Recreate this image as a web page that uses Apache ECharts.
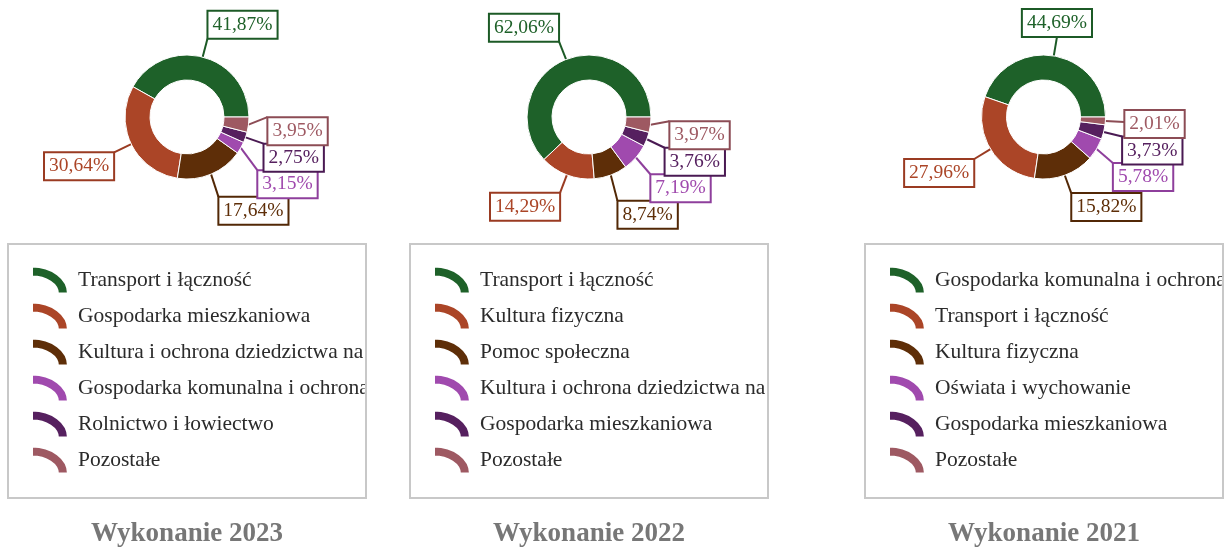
<!DOCTYPE html>
<html>
<head>
<meta charset="utf-8">
<script src="https://cdn.jsdelivr.net/npm/echarts@6/dist/echarts.min.js"></script>
<style>
  html, body { margin: 0; padding: 0; background: #ffffff; }
  #chart { width: 1227px; height: 550px; }
</style>
</head>
<body>
<div id="chart"></div>
<script>
// ---- data -------------------------------------------------------------
const titles = ['Wykonanie 2023', 'Wykonanie 2022', 'Wykonanie 2021'];

const categories2023 = ['Transport i łączność', 'Gospodarka mieszkaniowa', 'Kultura i ochrona dziedzictwa narodowego',
  'Gospodarka komunalna i ochrona środowiska', 'Rolnictwo i łowiectwo', 'Pozostałe'];
const values2023 = [41.87, 30.64, 17.64, 3.15, 2.75, 3.95];

const categories2022 = ['Transport i łączność', 'Kultura fizyczna', 'Pomoc społeczna',
  'Kultura i ochrona dziedzictwa narodowego', 'Gospodarka mieszkaniowa', 'Pozostałe'];
const values2022 = [62.06, 14.29, 8.74, 7.19, 3.76, 3.97];

const categories2021 = ['Gospodarka komunalna i ochrona środowiska', 'Transport i łączność', 'Kultura fizyczna',
  'Oświata i wychowanie', 'Gospodarka mieszkaniowa', 'Pozostałe'];
const values2021 = [44.69, 27.96, 15.82, 5.78, 3.73, 2.01];

// ---- styling ----------------------------------------------------------
const sliceColors  = ['#1e6129', '#ab4527', '#5e2e08', '#a04aae', '#56205f', '#9e5962'];
const borderColors = ['#1c5a26', '#9a3b22', '#522806', '#8e3f9c', '#4a1a53', '#8c4c55'];

const SERIF = '"Liberation Serif", "Times New Roman", serif';
const CENTER_Y = 117;
const CENTERS_X = [187, 589, 1043.5];
const R_IN = 37, R_OUT = 62, LINE_LEN = 19;
const LABEL_FONT = 19.5, LABEL_LH = 22, LABEL_PAD = [2, 4], LABEL_BORDER = 2;
const BOX_LEFTS = [7, 409, 864];          // outer left edge of each legend frame
const BOX_W = 360, BOX_TOP = 243, BOX_H = 256;

const fmt = v => v.toFixed(2).replace('.', ',') + '%';

const measureCtx = document.createElement('canvas').getContext('2d');
function textWidth(str) {
  measureCtx.font = LABEL_FONT + 'px ' + SERIF;
  return measureCtx.measureText(str).width;
}

// Place each value label beside the ring: the box touches the end of a
// short radial leader, then labels that collide on one side are spread apart.
function placeLabels(values, cx, cy) {
  const total = values.reduce((a, b) => a + b, 0);
  let acc = 0;
  const items = values.map((v, i) => {
    const mid = (acc + v / 2) / total * 2 * Math.PI;
    acc += v;
    const dx = Math.cos(mid), dy = -Math.sin(mid);
    const ax = cx + (R_OUT + LINE_LEN) * dx, ay = cy + (R_OUT + LINE_LEN) * dy;
    const w = textWidth(fmt(v)) + 2 * LABEL_PAD[1] + LABEL_BORDER;
    const h = LABEL_LH + 2 * LABEL_PAD[0] + LABEL_BORDER;
    const hCenter = Math.abs(dx) < 0.2, vCenter = Math.abs(dy) < 0.1;
    const left = hCenter ? ax - w / 2 : (dx > 0 ? ax : ax - w);
    const top = vCenter ? ay - h / 2 : (dy > 0 ? ay : ay - h);
    return { i, dx, dy, ax, ay, w, h, hCenter, vCenter, left, top, ideal: top,
             sx: cx + R_OUT * dx, sy: cy + R_OUT * dy, side: dx >= 0 ? 1 : -1 };
  });

  const step = items[0].h - 1.5;
  [1, -1].forEach(side => {
    const list = items.filter(it => it.side === side).sort((a, b) => a.ideal - b.ideal);
    const groups = [];
    const settle = g => {
      let s = 0;
      g.members.forEach((m, k) => { s += m.ideal - k * step; });
      g.top = s / g.members.length;
    };
    list.forEach(it => {
      const g = { members: [it] };
      settle(g);
      groups.push(g);
      while (groups.length > 1) {
        const a = groups[groups.length - 2], b = groups[groups.length - 1];
        if (a.top + a.members.length * step <= b.top) break;
        a.members = a.members.concat(b.members);
        groups.pop();
        settle(a);
      }
    });
    groups.forEach(g => g.members.forEach((m, k) => { m.top = g.top + k * step + (g.members.length > 1 ? 2 : 0); }));
  });

  items.forEach(it => {
    it.ex = it.hCenter ? Math.min(Math.max(it.ax, it.left + 3), it.left + it.w - 3)
                       : (it.side > 0 ? it.left : it.left + it.w);
    it.ey = it.vCenter ? Math.min(Math.max(it.ay, it.top + 3), it.top + it.h - 3)
                       : (it.dy > 0 ? it.top : it.top + it.h);
  });
  return items;
}

const charts = [
  { names: categories2023, values: values2023 },
  { names: categories2022, values: values2022 },
  { names: categories2021, values: values2021 }
];

// Quarter-ring marker used in the legends (drawn in a 4:3 box)
const ARC_ICON = 'path://M0 0 A100 75 0 0 1 100 75 L72 75 A72 47 0 0 0 0 28 Z';

const series = [], legends = [], titleList = [], frames = [];
charts.forEach((c, s) => {
  const cx = CENTERS_X[s];
  const placed = placeLabels(c.values, cx, CENTER_Y);
  series.push({
    type: 'pie',
    name: titles[s],
    center: [cx, CENTER_Y],
    radius: [R_IN, R_OUT],
    startAngle: 0,
    clockwise: false,
    avoidLabelOverlap: false,
    silent: true,
    itemStyle: { borderColor: '#ffffff', borderWidth: 1 },
    label: {
      show: true,
      position: 'outside',
      formatter: p => fmt(p.value),
      fontFamily: SERIF,
      fontSize: LABEL_FONT,
      lineHeight: LABEL_LH,
      padding: LABEL_PAD,
      backgroundColor: '#ffffff',
      borderWidth: LABEL_BORDER
    },
    labelLine: { show: true, length: LINE_LEN, length2: 0, lineStyle: { width: 2 } },
    labelLayout: p => {
      const pl = placed[p.dataIndex];
      return {
        x: pl.left + LABEL_BORDER / 2,
        y: pl.top + LABEL_BORDER / 2,
        align: 'left',
        verticalAlign: 'top',
        labelLinePoints: [[pl.sx, pl.sy], [pl.ex, pl.ey], [pl.ex, pl.ey]]
      };
    },
    data: c.names.map((n, i) => ({
      name: n,
      value: c.values[i],
      itemStyle: { color: sliceColors[i] },
      label: { color: sliceColors[i], borderColor: borderColors[i] },
      labelLine: { lineStyle: { color: borderColors[i] } }
    }))
  });

  legends.push({
    orient: 'vertical',
    left: BOX_LEFTS[s] + 24,
    top: 265.5,
    padding: 0,
    itemWidth: 36,
    itemHeight: 27,
    itemGap: 7,
    icon: ARC_ICON,
    symbolKeepAspect: false,
    selectedMode: false,
    formatter: name => '{t|' + name + '}',
    textStyle: {
      width: 300,
      overflow: 'truncate',
      ellipsis: '',
      rich: {
        t: { fontFamily: SERIF, fontSize: 21.5, lineHeight: 24, color: '#2b2b2b', padding: [0, 0, 0, 5] }
      }
    },
    data: c.names.map((n, i) => ({ name: n, itemStyle: { color: sliceColors[i] } }))
  });

  // white strip right of each frame trims long legend names at the frame edge
  const stripRight = s < 2 ? BOX_LEFTS[s + 1] - 1 : 1227;
  frames.push({
    type: 'rect', z: 100, silent: true,
    shape: { x: BOX_LEFTS[s] + BOX_W - 1, y: BOX_TOP - 2, width: stripRight - (BOX_LEFTS[s] + BOX_W - 1), height: BOX_H + 4 },
    style: { fill: '#ffffff' }
  });
  frames.push({
    type: 'rect', z: 101, silent: true,
    shape: { x: BOX_LEFTS[s] + 1, y: BOX_TOP + 1, width: BOX_W - 2, height: BOX_H - 2 },
    style: { fill: 'none', stroke: '#c8c8c8', lineWidth: 2 }
  });

  titleList.push({
    text: titles[s],
    left: BOX_LEFTS[s] + BOX_W / 2,
    textAlign: 'center',
    top: 521,
    padding: 0,
    textStyle: { fontFamily: SERIF, fontSize: 27, fontWeight: 'bold', color: '#777777' }
  });
});

const chart = echarts.init(document.getElementById('chart'), null, { renderer: 'canvas' });
chart.setOption({
  backgroundColor: '#ffffff',
  animation: false,
  title: titleList,
  legend: legends,
  graphic: frames,
  series: series
});
</script>
</body>
</html>
